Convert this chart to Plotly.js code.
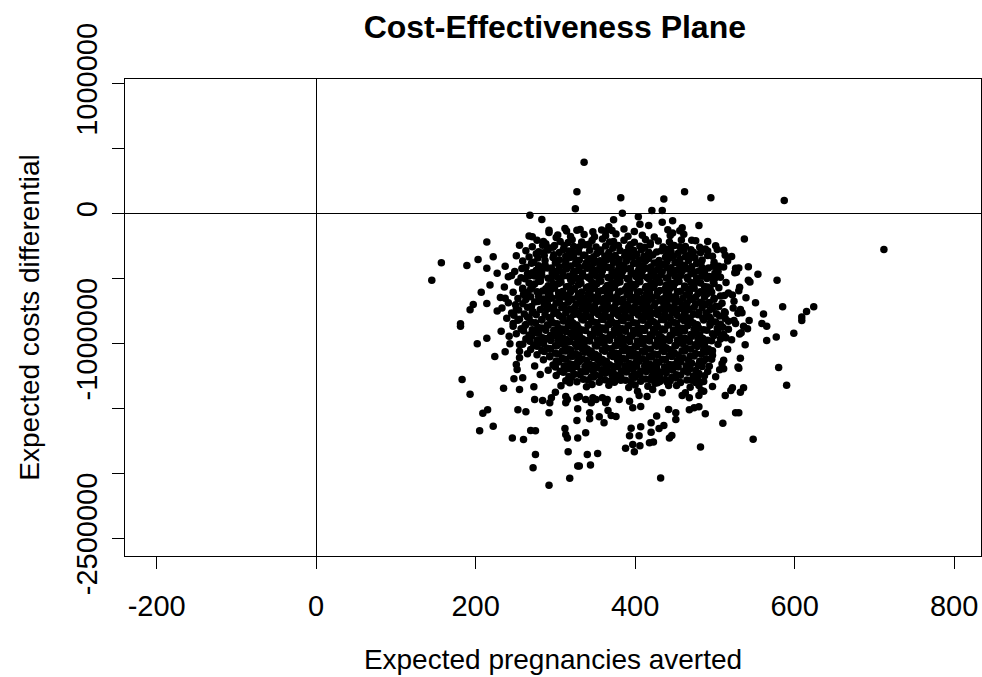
<!DOCTYPE html>
<html>
<head>
<meta charset="utf-8">
<script src="https://cdn.plot.ly/plotly-3.0.1.min.js"></script>
<style>html,body{margin:0;padding:0;background:#fff;}#chart{width:982px;height:677px;}</style>
</head>
<body>
<div id="chart"></div>
<script>
// Expected pregnancies averted (x) and expected cost differential (y), dense core of the cloud, row by row
const coreEffects = [
  292,314,331,347,358,371,386,399,441,456,
  303,319,336,349,363,376,391,409,424,444,461,
  277,306,321,333,346,359,373,386,399,413,429,443,458,476,491,
  271,284,297,311,323,337,351,363,379,392,406,419,435,449,463,481,501,
  263,279,291,305,317,329,343,356,367,381,393,408,417,433,445,461,473,491,511,
  251,267,286,297,313,323,337,348,362,371,387,397,411,422,438,448,463,475,491,521,
  259,273,287,301,313,328,339,353,364,379,389,403,413,429,440,456,467,483,499,516,
  237,263,279,295,305,319,330,345,356,370,380,394,405,420,430,445,456,471,484,498,511,
  249,271,283,299,309,323,334,348,359,373,384,398,409,423,434,448,459,474,487,504,527,
  241,257,274,291,302,317,327,341,351,366,376,390,401,415,425,439,450,465,477,493,507,
  253,267,281,297,307,321,332,346,357,371,381,395,406,420,431,445,455,470,482,498,514,544,
  236,259,271,288,299,314,324,339,349,363,374,388,398,413,423,438,448,463,474,491,505,531,
  247,265,277,293,304,319,329,343,354,368,379,393,403,418,428,442,453,468,479,496,517,
  231,253,269,285,296,311,321,336,346,361,371,385,396,410,421,435,445,460,471,487,499,539,
  241,259,274,290,301,316,326,341,351,365,376,390,401,415,425,440,450,465,476,493,509,551,
  233,251,265,281,293,308,318,333,343,358,368,382,393,407,418,432,442,457,468,484,497,523,
  245,261,271,287,298,313,323,338,348,362,373,387,397,412,422,437,447,462,473,489,502,529,561,
  239,255,267,283,294,309,319,333,344,358,369,383,394,408,419,433,444,458,469,485,495,513,
  247,263,275,291,302,317,327,342,352,367,377,392,402,417,427,442,452,467,478,494,507,526,
  257,271,283,298,309,323,334,349,359,374,384,398,409,423,434,448,459,474,486,503,517,541,
  251,267,279,294,305,319,330,344,355,369,380,394,405,419,430,444,455,470,481,497,511,531,
  263,277,289,303,314,328,339,353,364,378,389,403,413,428,438,453,463,479,491,507,521,
  259,273,285,300,311,325,336,350,361,375,385,400,410,425,435,450,460,475,487,504,
  269,283,294,309,319,334,345,359,370,384,394,409,419,434,444,459,470,486,497,516,
  277,293,304,319,329,344,354,369,379,393,403,418,428,443,454,469,483,497,
  285,301,313,328,339,353,364,378,388,402,413,427,438,453,467,481,496,511,
  297,311,322,337,348,363,373,387,397,412,422,437,448,464,479,493,
  291,306,321,332,347,358,372,383,397,407,421,432,447,461,476,491,506,
  301,317,331,345,356,371,382,396,406,421,431,446,457,473,487,501,
  313,327,341,355,369,382,395,407,419,431,444,457,471,486,
  307,339,367,392,416,442,469,497
];
const coreCosts = [
  -128e3,-135e3,-122e3,-140e3,-126e3,-131e3,-119e3,-138e3,-125e3,-133e3,
  -165e3,-176e3,-162e3,-178e3,-170e3,-158e3,-174e3,-166e3,-181e3,-169e3,-160e3,
  -205e3,-214e3,-202e3,-219e3,-208e3,-196e3,-215e3,-206e3,-221e3,-200e3,-212e3,-218e3,-204e3,-209e3,-215e3,
  -256e3,-243e3,-259e3,-247e3,-254e3,-240e3,-258e3,-249e3,-245e3,-262e3,-251e3,-239e3,-257e3,-246e3,-253e3,-260e3,-248e3,
  -286e3,-294e3,-281e3,-299e3,-288e3,-295e3,-283e3,-292e3,-300e3,-285e3,-291e3,-279e3,-297e3,-287e3,-293e3,-284e3,-298e3,-289e3,-282e3,
  -325e3,-334e3,-322e3,-339e3,-328e3,-336e3,-320e3,-333e3,-327e3,-341e3,-324e3,-335e3,-329e3,-318e3,-337e3,-326e3,-332e3,-340e3,-323e3,-331e3,
  -366e3,-374e3,-361e3,-378e3,-369e3,-363e3,-377e3,-371e3,-359e3,-373e3,-367e3,-380e3,-364e3,-372e3,-368e3,-376e3,-362e3,-370e3,-375e3,-365e3,
  -406e3,-414e3,-401e3,-418e3,-409e3,-403e3,-416e3,-411e3,-399e3,-413e3,-407e3,-420e3,-404e3,-412e3,-408e3,-417e3,-402e3,-410e3,-415e3,-405e3,-411e3,
  -446e3,-455e3,-441e3,-458e3,-449e3,-443e3,-457e3,-451e3,-440e3,-453e3,-447e3,-460e3,-444e3,-452e3,-448e3,-456e3,-442e3,-450e3,-455e3,-445e3,-451e3,
  -486e3,-494e3,-481e3,-498e3,-489e3,-483e3,-497e3,-491e3,-480e3,-493e3,-487e3,-500e3,-484e3,-492e3,-488e3,-496e3,-482e3,-490e3,-495e3,-485e3,-491e3,
  -526e3,-534e3,-521e3,-538e3,-529e3,-523e3,-537e3,-531e3,-520e3,-533e3,-527e3,-540e3,-524e3,-532e3,-528e3,-536e3,-522e3,-530e3,-535e3,-525e3,-531e3,-527e3,
  -566e3,-574e3,-561e3,-578e3,-569e3,-563e3,-577e3,-571e3,-560e3,-573e3,-567e3,-580e3,-564e3,-572e3,-568e3,-576e3,-562e3,-570e3,-575e3,-565e3,-571e3,-567e3,
  -606e3,-614e3,-601e3,-618e3,-609e3,-603e3,-617e3,-611e3,-600e3,-613e3,-607e3,-620e3,-604e3,-612e3,-608e3,-616e3,-602e3,-610e3,-615e3,-605e3,-611e3,
  -646e3,-654e3,-641e3,-658e3,-649e3,-643e3,-657e3,-651e3,-640e3,-653e3,-647e3,-660e3,-644e3,-652e3,-648e3,-656e3,-642e3,-650e3,-655e3,-645e3,-651e3,-647e3,
  -686e3,-694e3,-681e3,-698e3,-689e3,-683e3,-697e3,-691e3,-680e3,-693e3,-687e3,-700e3,-684e3,-692e3,-688e3,-696e3,-682e3,-690e3,-695e3,-685e3,-691e3,-687e3,
  -726e3,-734e3,-721e3,-738e3,-729e3,-723e3,-737e3,-731e3,-720e3,-733e3,-727e3,-740e3,-724e3,-732e3,-728e3,-736e3,-722e3,-730e3,-735e3,-725e3,-731e3,-727e3,
  -766e3,-774e3,-761e3,-778e3,-769e3,-763e3,-777e3,-771e3,-760e3,-773e3,-767e3,-780e3,-764e3,-772e3,-768e3,-776e3,-762e3,-770e3,-775e3,-765e3,-771e3,-767e3,-773e3,
  -806e3,-814e3,-801e3,-818e3,-809e3,-803e3,-817e3,-811e3,-800e3,-813e3,-807e3,-820e3,-804e3,-812e3,-808e3,-816e3,-802e3,-810e3,-815e3,-805e3,-811e3,-807e3,
  -846e3,-854e3,-841e3,-858e3,-849e3,-843e3,-857e3,-851e3,-840e3,-853e3,-847e3,-860e3,-844e3,-852e3,-848e3,-856e3,-842e3,-850e3,-855e3,-845e3,-851e3,-847e3,
  -886e3,-894e3,-881e3,-898e3,-889e3,-883e3,-897e3,-891e3,-880e3,-893e3,-887e3,-900e3,-884e3,-892e3,-888e3,-896e3,-882e3,-890e3,-895e3,-885e3,-891e3,-887e3,
  -926e3,-934e3,-921e3,-938e3,-929e3,-923e3,-937e3,-931e3,-920e3,-933e3,-927e3,-940e3,-924e3,-932e3,-928e3,-936e3,-922e3,-930e3,-935e3,-925e3,-931e3,-927e3,
  -966e3,-974e3,-961e3,-978e3,-969e3,-963e3,-977e3,-971e3,-960e3,-973e3,-967e3,-980e3,-964e3,-972e3,-968e3,-976e3,-962e3,-970e3,-975e3,-965e3,-971e3,
  -1006e3,-1014e3,-1001e3,-1018e3,-1009e3,-1003e3,-1017e3,-1011e3,-1000e3,-1013e3,-1007e3,-1020e3,-1004e3,-1012e3,-1008e3,-1016e3,-1002e3,-1010e3,-1015e3,-1005e3,
  -1046e3,-1054e3,-1041e3,-1058e3,-1049e3,-1043e3,-1057e3,-1051e3,-1040e3,-1053e3,-1047e3,-1060e3,-1044e3,-1052e3,-1048e3,-1056e3,-1042e3,-1050e3,-1055e3,-1045e3,
  -1086e3,-1094e3,-1081e3,-1098e3,-1089e3,-1083e3,-1097e3,-1091e3,-1080e3,-1093e3,-1087e3,-1100e3,-1084e3,-1092e3,-1088e3,-1096e3,-1082e3,-1090e3,
  -1126e3,-1134e3,-1121e3,-1138e3,-1129e3,-1123e3,-1137e3,-1131e3,-1120e3,-1133e3,-1127e3,-1140e3,-1124e3,-1132e3,-1128e3,-1136e3,-1122e3,-1130e3,
  -1166e3,-1174e3,-1161e3,-1178e3,-1169e3,-1163e3,-1177e3,-1171e3,-1160e3,-1173e3,-1167e3,-1180e3,-1164e3,-1172e3,-1168e3,-1176e3,
  -1206e3,-1214e3,-1201e3,-1218e3,-1209e3,-1203e3,-1217e3,-1211e3,-1200e3,-1213e3,-1207e3,-1220e3,-1204e3,-1212e3,-1208e3,-1216e3,-1202e3,
  -1246e3,-1254e3,-1241e3,-1258e3,-1249e3,-1243e3,-1257e3,-1251e3,-1240e3,-1253e3,-1247e3,-1260e3,-1244e3,-1252e3,-1248e3,-1256e3,
  -1286e3,-1294e3,-1281e3,-1298e3,-1289e3,-1283e3,-1297e3,-1291e3,-1280e3,-1293e3,-1287e3,-1300e3,-1284e3,-1292e3,
  -1326e3,-1334e3,-1321e3,-1338e3,-1329e3,-1323e3,-1337e3,-1331e3
];
// Second, interleaved set of simulations filling the densest part of the cloud
const innerEffects = [
  316,342,368,394,419,446,
  290,310,330,357,372,398,412,441,456,470,
  285,298,322,335,352,375,388,402,427,440,454,468,482,
  278,305,318,330,343,356,367,380,393,405,417,430,443,456,470,484,
  270,287,300,312,325,337,348,360,373,385,398,410,424,436,450,462,477,
  258,276,290,303,314,326,340,352,366,378,389,404,415,428,440,452,465,480,492,
  265,283,296,310,322,334,346,358,371,383,395,408,420,432,444,457,470,484,500,
  262,281,294,306,319,331,343,355,368,380,392,404,417,429,441,453,466,478,490,
  274,291,304,317,329,341,352,365,377,390,401,414,425,439,450,462,474,487,499,
  269,284,296,309,321,333,346,358,370,382,394,406,419,431,444,457,469,482,494,
  260,279,291,304,316,328,341,353,365,377,390,402,414,427,439,451,464,476,490,507,
  263,278,292,305,318,331,344,357,369,381,394,406,418,431,443,456,469,482,499,
  250,270,286,298,311,324,336,349,361,374,386,399,411,424,436,449,461,474,488,505,
  254,272,289,302,315,327,340,352,365,378,390,402,415,428,440,452,465,480,494,512,
  248,265,276,292,305,318,330,342,354,367,379,391,404,416,428,441,453,466,479,493,506,
  253,270,283,297,310,322,335,348,360,372,385,398,410,423,436,448,461,473,486,501,517,
  262,278,290,304,316,329,341,354,366,379,391,404,416,428,441,454,466,480,494,510,
  260,276,288,300,313,326,338,350,363,375,388,400,412,425,437,450,462,476,490,504,
  270,284,298,310,322,334,347,359,372,384,396,409,421,433,446,458,471,485,499,514,
  268,281,294,306,318,331,343,356,368,381,393,406,418,430,443,455,468,481,496,
  277,290,302,315,327,340,352,364,377,389,402,414,427,439,451,464,478,492,
  286,300,313,325,337,350,362,375,387,399,412,424,436,449,462,476,490,
  293,309,322,334,347,359,372,384,396,409,421,434,446,460,474,489,
  304,318,330,343,356,368,381,393,405,418,430,443,457,471,486,
  300,314,327,340,352,365,378,390,402,415,427,440,454,469,484,
  310,324,338,350,363,376,389,401,414,426,439,452,466,480,
  320,335,348,362,375,388,400,413,425,438,451,465,478,
  318,346,374,400,425,452,476
];
const innerCosts = [
  -222e3,-236e3,-218e3,-240e3,-227e3,-243e3,
  -262e3,-276e3,-258e3,-280e3,-267e3,-283e3,-260e3,-274e3,-256e3,-278e3,
  -302e3,-316e3,-298e3,-320e3,-307e3,-323e3,-300e3,-314e3,-296e3,-318e3,-305e3,-321e3,-301e3,
  -342e3,-356e3,-338e3,-360e3,-347e3,-363e3,-340e3,-354e3,-336e3,-358e3,-345e3,-361e3,-341e3,-352e3,-337e3,-357e3,
  -382e3,-396e3,-378e3,-400e3,-387e3,-403e3,-380e3,-394e3,-376e3,-398e3,-385e3,-401e3,-381e3,-392e3,-377e3,-397e3,-384e3,
  -422e3,-436e3,-418e3,-440e3,-427e3,-443e3,-420e3,-434e3,-416e3,-438e3,-425e3,-441e3,-421e3,-432e3,-417e3,-437e3,-424e3,-442e3,-419e3,
  -462e3,-476e3,-458e3,-480e3,-467e3,-483e3,-460e3,-474e3,-456e3,-478e3,-465e3,-481e3,-461e3,-472e3,-457e3,-477e3,-464e3,-482e3,-459e3,
  -502e3,-516e3,-498e3,-520e3,-507e3,-523e3,-500e3,-514e3,-496e3,-518e3,-505e3,-521e3,-501e3,-512e3,-497e3,-517e3,-504e3,-522e3,-499e3,
  -542e3,-556e3,-538e3,-560e3,-547e3,-563e3,-540e3,-554e3,-536e3,-558e3,-545e3,-561e3,-541e3,-552e3,-537e3,-557e3,-544e3,-562e3,-539e3,
  -582e3,-596e3,-578e3,-600e3,-587e3,-603e3,-580e3,-594e3,-576e3,-598e3,-585e3,-601e3,-581e3,-592e3,-577e3,-597e3,-584e3,-602e3,-579e3,
  -622e3,-636e3,-618e3,-640e3,-627e3,-643e3,-620e3,-634e3,-616e3,-638e3,-625e3,-641e3,-621e3,-632e3,-617e3,-637e3,-624e3,-642e3,-619e3,-635e3,
  -662e3,-676e3,-658e3,-680e3,-667e3,-683e3,-660e3,-674e3,-656e3,-678e3,-665e3,-681e3,-661e3,-672e3,-657e3,-677e3,-664e3,-682e3,-659e3,
  -702e3,-716e3,-698e3,-720e3,-707e3,-723e3,-700e3,-714e3,-696e3,-718e3,-705e3,-721e3,-701e3,-712e3,-697e3,-717e3,-704e3,-722e3,-699e3,-715e3,
  -742e3,-756e3,-738e3,-760e3,-747e3,-763e3,-740e3,-754e3,-736e3,-758e3,-745e3,-761e3,-741e3,-752e3,-737e3,-757e3,-744e3,-762e3,-739e3,-755e3,
  -782e3,-796e3,-778e3,-800e3,-787e3,-803e3,-780e3,-794e3,-776e3,-798e3,-785e3,-801e3,-781e3,-792e3,-777e3,-797e3,-784e3,-802e3,-779e3,-795e3,-788e3,
  -822e3,-836e3,-818e3,-840e3,-827e3,-843e3,-820e3,-834e3,-816e3,-838e3,-825e3,-841e3,-821e3,-832e3,-817e3,-837e3,-824e3,-842e3,-819e3,-835e3,-828e3,
  -862e3,-876e3,-858e3,-880e3,-867e3,-883e3,-860e3,-874e3,-856e3,-878e3,-865e3,-881e3,-861e3,-872e3,-857e3,-877e3,-864e3,-882e3,-859e3,-875e3,
  -902e3,-916e3,-898e3,-920e3,-907e3,-923e3,-900e3,-914e3,-896e3,-918e3,-905e3,-921e3,-901e3,-912e3,-897e3,-917e3,-904e3,-922e3,-899e3,-915e3,
  -942e3,-956e3,-938e3,-960e3,-947e3,-963e3,-940e3,-954e3,-936e3,-958e3,-945e3,-961e3,-941e3,-952e3,-937e3,-957e3,-944e3,-962e3,-939e3,-955e3,
  -982e3,-996e3,-978e3,-1000e3,-987e3,-1003e3,-980e3,-994e3,-976e3,-998e3,-985e3,-1001e3,-981e3,-992e3,-977e3,-997e3,-984e3,-1002e3,-979e3,
  -1022e3,-1036e3,-1018e3,-1040e3,-1027e3,-1043e3,-1020e3,-1034e3,-1016e3,-1038e3,-1025e3,-1041e3,-1021e3,-1032e3,-1017e3,-1037e3,-1024e3,-1042e3,
  -1062e3,-1076e3,-1058e3,-1080e3,-1067e3,-1083e3,-1060e3,-1074e3,-1056e3,-1078e3,-1065e3,-1081e3,-1061e3,-1072e3,-1057e3,-1077e3,-1064e3,
  -1102e3,-1116e3,-1098e3,-1120e3,-1107e3,-1123e3,-1100e3,-1114e3,-1096e3,-1118e3,-1105e3,-1121e3,-1101e3,-1112e3,-1097e3,-1117e3,
  -1142e3,-1156e3,-1138e3,-1160e3,-1147e3,-1163e3,-1140e3,-1154e3,-1136e3,-1158e3,-1145e3,-1161e3,-1141e3,-1152e3,-1137e3,
  -1182e3,-1196e3,-1178e3,-1200e3,-1187e3,-1203e3,-1180e3,-1194e3,-1176e3,-1198e3,-1185e3,-1201e3,-1181e3,-1192e3,-1177e3,
  -1222e3,-1236e3,-1218e3,-1240e3,-1227e3,-1243e3,-1220e3,-1234e3,-1216e3,-1238e3,-1225e3,-1241e3,-1221e3,-1232e3,
  -1262e3,-1276e3,-1258e3,-1280e3,-1267e3,-1283e3,-1260e3,-1274e3,-1256e3,-1278e3,-1265e3,-1281e3,-1261e3,
  -1302e3,-1316e3,-1298e3,-1320e3,-1307e3,-1323e3,-1300e3
];
// Scattered simulations around the core
const tailEffects = [
  336,327,325,382,436,462,495,587,384,421,
  434,268,283,404,373,406,417,434,447,459,
  480,367,363,447,471,537,712,488,503,497,
  513,312,327,292,267,271,301,214,285,288,
  255,299,276,222,203,157,189,214,227,245,
  268,277,145,279,218,207,259,264,237,197,
  193,214,227,181,526,525,505,503,500,542,
  554,542,578,530,490,512,522,524,501,513,
  524,530,585,624,615,609,532,534,543,559,
  536,533,565,609,599,577,565,538,532,530,
  580,590,536,532,530,548,181,202,214,224,
  237,183,193,235,255,209,215,222,205,253,
  263,246,260,269,275,275,272,292,316,318,
  328,312,313,315,328,327,328,327,274,284,
  293,295,292,315,273,300,248,259,281,274,
  251,252,255,265,243,232,242,247,255,255,
  432,482,510,526,340,353,344,330,338,388,
  399,406,397,418,423,393,405,395,407,420,
  420,436,430,443,446,427,442,451,451,468,
  474,480,488,355,361,370,376,343,343,345,
  347,359,363,366,380,393,397,407,405,403,
  513,520,459,468,480,483,480,511,509,434,
  428,440,422,463,478,486,522,529,330,338,
  351,365,415,313,313
];
const tailCosts = [
  395e3,169e3,37e3,122e3,113e3,169e3,122e3,100e3,2e3,23e3,
  23e3,-13e3,-46e3,-25e3,-48e3,-82e3,-92e3,-67e3,-56e3,-110e3,
  -92e3,-102e3,-136e3,-149e3,-205e3,-195e3,-276e3,-272e3,-277e3,-328e3,
  -320e3,-115e3,-128e3,-146e3,-172e3,-179e3,-185e3,-218e3,-215e3,-233e3,
  -244e3,-246e3,-310e3,-333e3,-354e3,-378e3,-400e3,-421e3,-459e3,-477e3,
  -477e3,-472e3,-513e3,-520e3,-549e3,-605e3,-585e3,-610e3,-651e3,-700e3,
  -740e3,-693e3,-749e3,-848e3,-421e3,-456e3,-405e3,-431e3,-497e3,-410e3,
  -467e3,-513e3,-513e3,-418e3,-605e3,-631e3,-626e3,-674e3,-713e3,-764e3,
  -823e3,-595e3,-718e3,-718e3,-754e3,-797e3,-738e3,-764e3,-823e3,-846e3,
  -867e3,-918e3,-867e3,-823e3,-921e3,-951e3,-977e3,-1010e3,-1113e3,-1190e3,
  -1185e3,-1321e3,-1341e3,-1375e3,-1533e3,-1738e3,-867e3,-1003e3,-959e3,-1100e3,
  -1064e3,-1277e3,-1390e3,-1344e3,-1354e3,-1538e3,-1510e3,-1638e3,-1672e3,-1510e3,
  -1525e3,-1728e3,-1740e3,-1669e3,-1672e3,-1854e3,-1956e3,-2092e3,-1833e3,-2038e3,
  -1944e3,-1654e3,-1700e3,-1728e3,-1728e3,-1592e3,-1502e3,-1418e3,-1431e3,-1438e3,
  -1456e3,-1418e3,-1533e3,-1431e3,-1333e3,-1375e3,-1272e3,-1264e3,-1238e3,-1174e3,
  -1162e3,-1200e3,-1110e3,-1079e3,-1003e3,-905e3,-944e3,-867e3,-1008e3,-1059e3,
  -2036e3,-1797e3,-1615e3,-1533e3,-1854e3,-1846e3,-1936e3,-1944e3,-1687e3,-1807e3,
  -1833e3,-1788e3,-1777e3,-1765e3,-1759e3,-1710e3,-1710e3,-1652e3,-1641e3,-1684e3,
  -1610e3,-1631e3,-1654e3,-1728e3,-1708e3,-1559e3,-1508e3,-1533e3,-1585e3,-1510e3,
  -1495e3,-1487e3,-1541e3,-1564e3,-1610e3,-1554e3,-1562e3,-1579e3,-1533e3,-1456e3,
  -1418e3,-1418e3,-1456e3,-1515e3,-1431e3,-1444e3,-1495e3,-1485e3,-1400e3,-1367e3,
  -1400e3,-1362e3,-1400e3,-1418e3,-1400e3,-1362e3,-1323e3,-1195e3,-1156e3,-1379e3,
  -1303e3,-1297e3,-1354e3,-1379e3,-1277e3,-1367e3,-1341e3,-1182e3,-1408e3,-1431e3,
  -1431e3,-1431e3,-1408e3,-1456e3,-1408e3
];
const xTicks = [-200, 0, 200, 400, 600, 800];
const xTickLabels = ['-200', '0', '200', '400', '600', '800'];
const yTicks = [1000000, 500000, 0, -500000, -1000000, -1500000, -2000000, -2500000];
const yTickLabels = ['1000000', '', '0', '', '-1000000', '', '', '-2500000'];

const FONT = 'Liberation Sans, Arial, sans-serif';
const trace = {
  type: 'scatter', mode: 'markers',
  x: coreEffects.concat(innerEffects, tailEffects),
  y: coreCosts.concat(innerCosts, tailCosts),
  marker: {color: '#000000', size: 7.5},
  hoverinfo: 'skip'
};
const axisCommon = {
  showgrid: false, showline: true, mirror: true, linecolor: '#000', linewidth: 1,
  ticks: 'outside', ticklen: 12, tickcolor: '#000', tickwidth: 1,
  zeroline: true, zerolinecolor: '#000', zerolinewidth: 1.3,
  tickfont: {family: FONT, size: 29, color: '#000'}
};
const layout = {
  width: 982, height: 677,
  margin: {l: 125, r: 1, t: 79, b: 121},
  paper_bgcolor: '#fff', plot_bgcolor: '#fff',
  showlegend: false,
  font: {family: FONT, color: '#000'},
  title: {text: 'Cost-Effectiveness Plane', font: {family: FONT, size: 32, weight: 'bold', color: '#000'},
          x: 0.565, xanchor: 'center', y: 0.96, yanchor: 'middle', yref: 'container'},
  xaxis: Object.assign({}, axisCommon, {
    range: [-239.76, 833.76], tickmode: 'array', tickvals: xTicks, ticktext: xTickLabels,
    ticklabelstandoff: 12,
    title: {text: 'Expected pregnancies averted', font: {family: FONT, size: 28, color: '#000'}, standoff: 28}
  }),
  yaxis: Object.assign({}, axisCommon, {
    range: [-2636000, 1036000], tickmode: 'array', tickvals: yTicks, ticktext: yTickLabels, tickangle: -90,
    ticklabelstandoff: 3,
    title: {text: 'Expected costs differential', font: {family: FONT, size: 28, color: '#000'}, standoff: 23}
  })
};
Plotly.newPlot('chart', [trace], layout, {displayModeBar: false, staticPlot: true});
</script>
</body>
</html>
